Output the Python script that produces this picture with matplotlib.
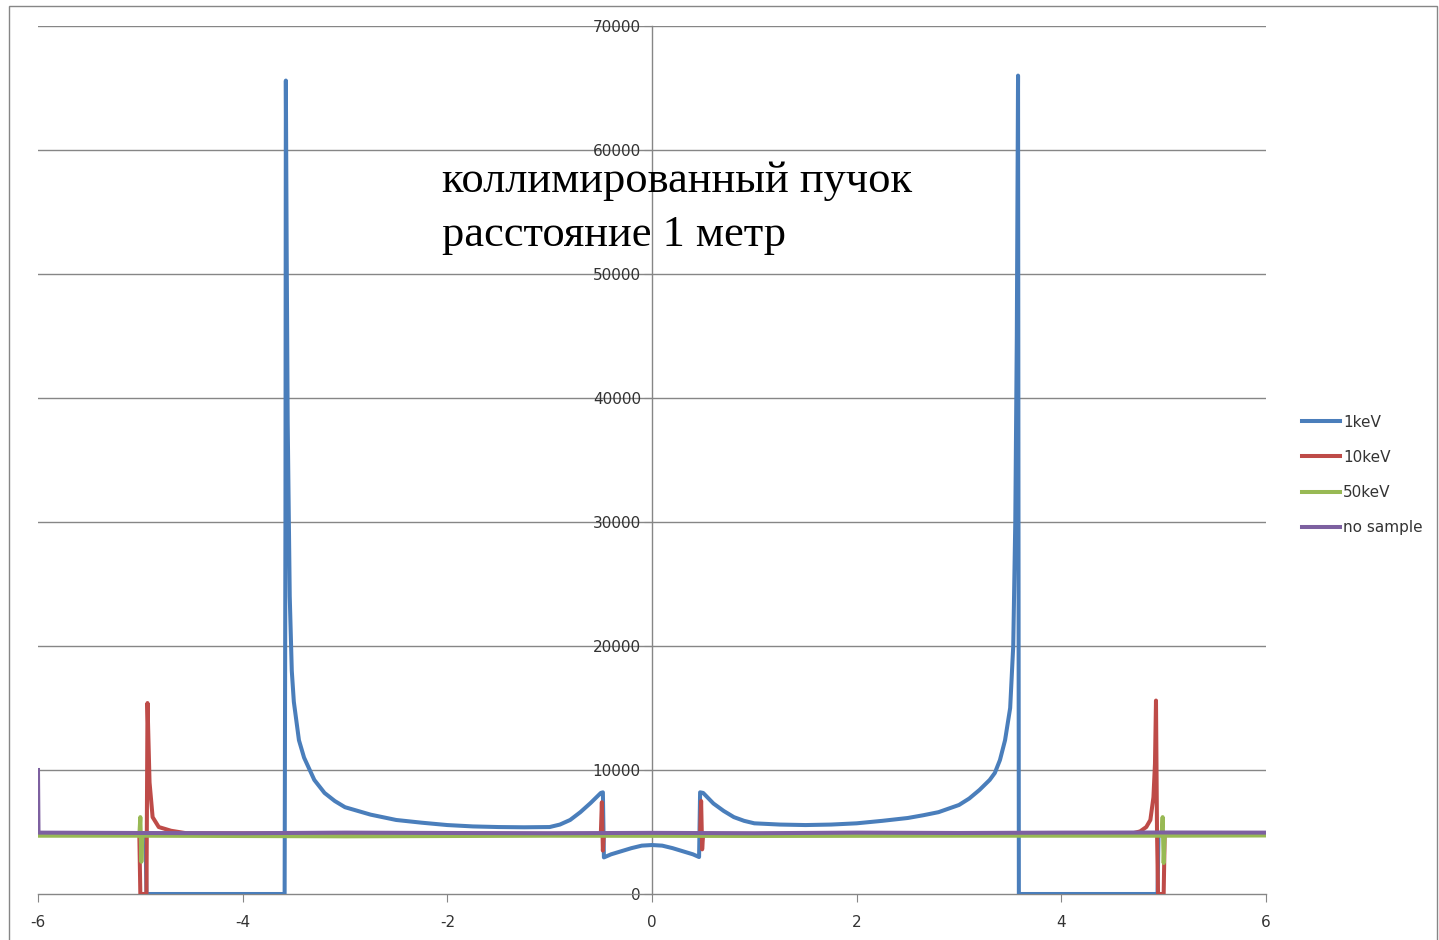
import matplotlib
matplotlib.use("Agg")
import matplotlib.pyplot as plt
from matplotlib.patches import Rectangle

plt.rcParams['axes.unicode_minus'] = False
plt.rcParams['font.family'] = ['DejaVu Sans']

# 1keV
x_1kev = [-6, -4.95, -4.94, -3.59, -3.582, -3.578, -3.57, -3.56, -3.54, -3.52, -3.5,
          -3.45, -3.4, -3.3, -3.2, -3.1, -3.0, -2.75, -2.5, -2.25, -2.0, -1.75,
          -1.5, -1.25, -1.0, -0.9, -0.8, -0.7, -0.6, -0.5, -0.48, -0.47, -0.4,
          -0.3, -0.2, -0.1, 0.0, 0.1, 0.2, 0.3, 0.4, 0.46, 0.47, 0.5, 0.6, 0.7,
          0.8, 0.9, 1.0, 1.25, 1.5, 1.75, 2.0, 2.25, 2.5, 2.65, 2.8, 3.0, 3.1,
          3.2, 3.3, 3.35, 3.4, 3.45, 3.5, 3.53, 3.55, 3.565, 3.577, 3.585, 4.94,
          4.95, 6]
y_1kev = [4900, 4900, 0, 0, 30000, 65600, 52000, 38000, 24000, 18000, 15500,
          12400, 11000, 9200, 8150, 7500, 7000, 6400, 5970, 5750, 5560, 5450,
          5400, 5380, 5400, 5600, 5970, 6600, 7340, 8150, 8200, 2950, 3200,
          3450, 3700, 3900, 3950, 3900, 3700, 3450, 3200, 2980, 8200, 8150, 7300, 6700,
          6200, 5900, 5700, 5600, 5560, 5600, 5700, 5900, 6130, 6350, 6600, 7180, 7700,
          8390, 9200, 9760, 10800, 12400, 15000, 20000, 30000, 45000, 66000, 0, 0,
          4900, 4900]

# 10keV
x_10kev = [-6, -5.01, -5.0, -4.94, -4.93, -4.91, -4.88, -4.82, -4.7, -4.55,
           -0.5, -0.49, -0.48, -0.47, 0.47, 0.48, 0.49, 0.5, 4.7, 4.77, 4.83,
           4.87, 4.9, 4.915, 4.925, 4.935, 4.945, 5.0, 5.01, 6]
y_10kev = [4850, 4850, 0, 0, 15400, 9000, 6200, 5400, 5100, 4900,
           4850, 7400, 3500, 4850, 4850, 7500, 3600, 4850, 4900, 5050, 5400,
           5970, 7800, 10500, 15600, 5000, 0, 0, 4850, 4850]

# 50keV
x_50kev = [-6, -5.01, -5.0, -4.99, -4.98, -3, -1, 1, 3, 4.98, 4.99, 5.0, 5.01, 6]
y_50kev = [4700, 4700, 6200, 2600, 4700, 4650, 4700, 4680, 4700, 4700, 6200, 2500, 4700, 4720]

# no sample
x_nosample = [-6, -5.995, -5, -4, -3, -2, -1, 0, 1, 2, 3, 4, 5, 6]
y_nosample = [10000, 4950, 4920, 4900, 4950, 4920, 4900, 4930, 4900, 4950, 4920, 4950, 4960, 4950]

y_ticks = [0, 10000, 20000, 30000, 40000, 50000, 60000, 70000]
x_ticks = [-6, -4, -2, 0, 2, 4, 6]

fig = plt.figure(figsize=(14.39, 9.40), dpi=100)
ax = fig.add_axes([38 / 1439, 1 - 894 / 940, (1266 - 38) / 1439, (894 - 26) / 940])

for yt in y_ticks[1:]:
    ax.axhline(yt, color='#868686', lw=1.0, zorder=1)

lw = 2.9
ax.plot(x_1kev, y_1kev, color='#4A7EBB', lw=lw, label='1keV', zorder=3)
ax.plot(x_10kev, y_10kev, color='#BE4B48', lw=lw, label='10keV', zorder=4)
ax.plot(x_50kev, y_50kev, color='#98B954', lw=lw, label='50keV', zorder=5)
ax.plot(x_nosample, y_nosample, color='#7D60A0', lw=lw, label='no sample', zorder=6)

ax.set_xlim(-6, 6)
ax.set_ylim(0, 70000)
ax.set_xticks(x_ticks)
ax.set_yticks(y_ticks)
ax.spines['left'].set_position(('data', 0))
ax.spines['top'].set_visible(False)
ax.spines['right'].set_visible(False)
for s in ['left', 'bottom']:
    ax.spines[s].set_color('#868686')
    ax.spines[s].set_linewidth(1.0)
ax.tick_params(axis='both', direction='out', length=6, color='#868686',
               labelsize=11, labelcolor='#333333')
ax.tick_params(axis='x', pad=9)
ax.tick_params(axis='y', pad=2)

ax.text(-2.05, 55300, 'коллимированный пучок\nрасстояние 1 метр',
        family='Liberation Serif', fontsize=32, va='center', ha='left',
        linespacing=1.45, color='black', zorder=7)

leg = fig.legend(loc='center left', bbox_to_anchor=(1288 / 1439, 1 - 475 / 940),
                 frameon=False, fontsize=11, handlelength=2.5, handletextpad=0.2,
                 labelspacing=1.33)
for t in leg.get_texts():
    t.set_color('#333333')

fig.patches.append(Rectangle((9 / 1439, -0.01), 1428 / 1439, 1 - 6 / 940 + 0.01,
                             transform=fig.transFigure, fill=False,
                             edgecolor='#868686', lw=1.0))

fig.savefig('out.png', dpi=100)
